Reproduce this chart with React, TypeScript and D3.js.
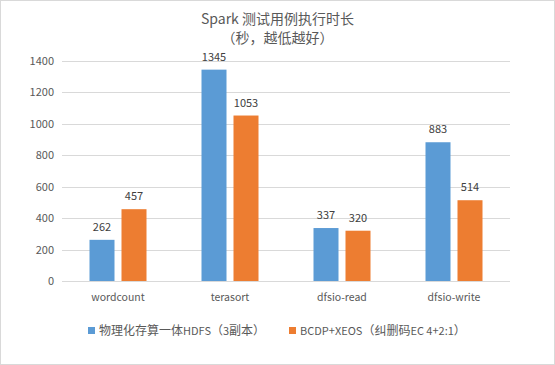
import React, { useEffect, useRef } from "react";
import * as d3 from "d3";

const categories = ["wordcount", "terasort", "dfsio-read", "dfsio-write"];
const seriesNames = ["物理化存算一体HDFS（3副本）", "BCDP+XEOS（纠删码EC 4+2:1）"];
const hdfsValues = [262, 1345, 337, 883];
const xeosValues = [457, 1053, 320, 514];
const yTicks = [0, 200, 400, 600, 800, 1000, 1200, 1400];
const titleLines = ["Spark 测试用例执行时长", "（秒，越低越好）"];
const colors = ["#5B9BD5", "#ED7D31"];

const W = 555, H = 365;
const FONT = "'Noto Sans CJK SC', 'Noto Sans', sans-serif";

export default function App() {
  const ref = useRef<SVGSVGElement>(null);
  useEffect(() => {
    const svg = d3.select(ref.current);
    svg.selectAll("*").remove();
    svg.append("rect").attr("x", 0.5).attr("y", 0.5).attr("width", W - 1).attr("height", H - 1)
      .attr("fill", "#fff").attr("stroke", "#d9d9d9");

    const left = 62, right = 510, top = 61, bottom = 281;
    const x = d3.scaleBand().domain(categories).range([left, right]);
    const y = d3.scaleLinear().domain([0, 1400]).range([bottom, top]);

    // title
    titleLines.forEach((t, i) => {
      svg.append("text").attr("x", W / 2).attr("y", 24 + i * 19).attr("text-anchor", "middle")
        .attr("font-family", FONT).attr("font-size", 14).attr("fill", "#595959").text(t);
    });

    // grid
    svg.append("g").selectAll("line").data(yTicks).join("line")
      .attr("x1", left).attr("x2", right)
      .attr("y1", d => Math.round(y(d)) + 0.5).attr("y2", d => Math.round(y(d)) + 0.5)
      .attr("stroke", "#d9d9d9").attr("stroke-width", 1);
    svg.append("g").selectAll("text").data(yTicks).join("text")
      .attr("x", 54).attr("y", d => y(d) + 4).attr("text-anchor", "end")
      .attr("font-family", FONT).attr("font-size", 11).attr("fill", "#595959").text(d => d);

    const bw = 25, gap = 7;
    const series = [hdfsValues, xeosValues];
    series.forEach((vals, si) => {
      const g = svg.append("g");
      const bx = (c: string) => x(c)! + x.bandwidth() / 2 - (bw * 2 + gap) / 2 + si * (bw + gap);
      g.selectAll("rect").data(categories).join("rect")
        .attr("x", c => bx(c)).attr("width", bw)
        .attr("y", (c, i) => y(vals[i])).attr("height", (c, i) => bottom - y(vals[i]))
        .attr("fill", colors[si]);
      g.selectAll("text").data(categories).join("text")
        .attr("x", c => bx(c) + bw / 2).attr("y", (c, i) => y(vals[i]) - 9)
        .attr("text-anchor", "middle").attr("font-family", FONT).attr("font-size", 11)
        .attr("fill", "#404040").text((c, i) => vals[i]);
    });

    // x axis line + labels
    svg.append("line").attr("x1", left).attr("x2", right).attr("y1", bottom + 0.5).attr("y2", bottom + 0.5)
      .attr("stroke", "#d9d9d9");
    svg.append("g").selectAll("text").data(categories).join("text")
      .attr("x", c => x(c)! + x.bandwidth() / 2).attr("y", 301).attr("text-anchor", "middle")
      .attr("font-family", FONT).attr("font-size", 10.5).attr("fill", "#595959").text(c => c);

    // legend
    const legendX = [88, 289];
    seriesNames.forEach((n, i) => {
      svg.append("rect").attr("x", legendX[i]).attr("y", 327).attr("width", 7).attr("height", 7).attr("fill", colors[i]);
      const t = svg.append("text").attr("x", legendX[i] + 11).attr("y", 335)
        .attr("font-family", FONT).attr("fill", "#595959");
      const runs = n.match(/[\u3000-\u9fff\uff00-\uffef]+|[^\u3000-\u9fff\uff00-\uffef]+/g) || [];
      runs.forEach(r => {
        const cjk = /[\u3000-\u9fff\uff00-\uffef]/.test(r);
        t.append("tspan").attr("font-size", cjk ? 12 : 11).text(r);
      });
    });
  }, []);
  return <svg ref={ref} width={W} height={H} style={{ position: "absolute", left: 0, top: 0 }} />;
}
